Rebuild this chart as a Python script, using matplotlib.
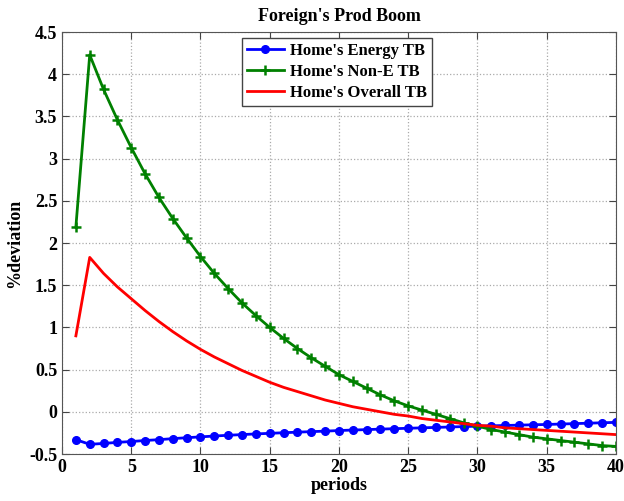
import matplotlib
matplotlib.use("Agg")
import matplotlib.pyplot as plt

periods = list(range(1, 41))

energy_tb = [-0.330, -0.385, -0.375, -0.362, -0.352, -0.340, -0.330, -0.318, -0.307, -0.297,
             -0.287, -0.278, -0.270, -0.262, -0.255, -0.248, -0.241, -0.235, -0.229, -0.222,
             -0.216, -0.211, -0.205, -0.200, -0.195, -0.190, -0.185, -0.180, -0.175, -0.170,
             -0.166, -0.162, -0.158, -0.154, -0.150, -0.145, -0.140, -0.135, -0.130, -0.125]

non_e_tb = [2.19, 4.23, 3.82, 3.46, 3.13, 2.82, 2.54, 2.29, 2.06, 1.84,
            1.64, 1.46, 1.29, 1.14, 1.00, 0.87, 0.75, 0.64, 0.54, 0.44,
            0.36, 0.28, 0.20, 0.13, 0.07, 0.02, -0.03, -0.08, -0.13, -0.17,
            -0.21, -0.24, -0.27, -0.30, -0.32, -0.34, -0.36, -0.38, -0.40, -0.41]

overall_tb = [0.90, 1.83, 1.64, 1.48, 1.34, 1.20, 1.07, 0.95, 0.84, 0.74,
              0.65, 0.57, 0.49, 0.42, 0.35, 0.29, 0.24, 0.19, 0.14, 0.10,
              0.06, 0.03, 0.00, -0.03, -0.05, -0.08, -0.10, -0.12, -0.14, -0.16,
              -0.17, -0.19, -0.20, -0.21, -0.22, -0.23, -0.24, -0.25, -0.26, -0.27]

plt.rcParams['font.family'] = ['Liberation Serif', 'DejaVu Serif']
plt.rcParams['font.weight'] = 'bold'

fig = plt.figure(figsize=(6.24, 5.01), dpi=100)
ax = fig.add_axes([0.0994, 0.0938, 0.8876, 0.8422])

ax.plot(periods, energy_tb, color='blue', lw=2, marker='o', ms=5.5, label="Home's Energy TB")
ax.plot(periods, non_e_tb, color='green', lw=2, marker='+', ms=7, mew=1.8, label="Home's Non-E TB")
ax.plot(periods, overall_tb, color='red', lw=2, label="Home's Overall TB")

ax.set_xlim(0, 40)
ax.set_ylim(-0.5, 4.5)
ax.set_xticks(range(0, 41, 5))
ax.set_yticks([-0.5, 0, 0.5, 1, 1.5, 2, 2.5, 3, 3.5, 4, 4.5])
ax.set_yticklabels(['-0.5', '0', '0.5', '1', '1.5', '2', '2.5', '3', '3.5', '4', '4.5'])
ax.tick_params(direction='in', top=True, right=True, labelsize=13, length=5, color='#444444')
for lab in ax.get_xticklabels() + ax.get_yticklabels():
    lab.set_fontweight('bold')
for sp in ax.spines.values():
    sp.set_color('#555555')
ax.grid(True, linestyle=':', color='#aaaaaa', lw=0.9)

ax.set_title("Foreign's Prod Boom", fontsize=13, fontweight='bold', pad=8)
ax.set_xlabel('periods', fontsize=13, fontweight='bold', labelpad=1)
ax.set_ylabel('%deviation', fontsize=13, fontweight='bold', labelpad=4)

leg = ax.legend(loc='upper left', bbox_to_anchor=(0.325, 0.986), fancybox=False,
                edgecolor='#444444', framealpha=1, prop={'size': 12, 'weight': 'bold'},
                borderpad=0.3, labelspacing=0.3, handlelength=2.2, handletextpad=0.35,
                borderaxespad=0)
leg.get_frame().set_linewidth(1.0)

fig.savefig('out.png', dpi=100)
